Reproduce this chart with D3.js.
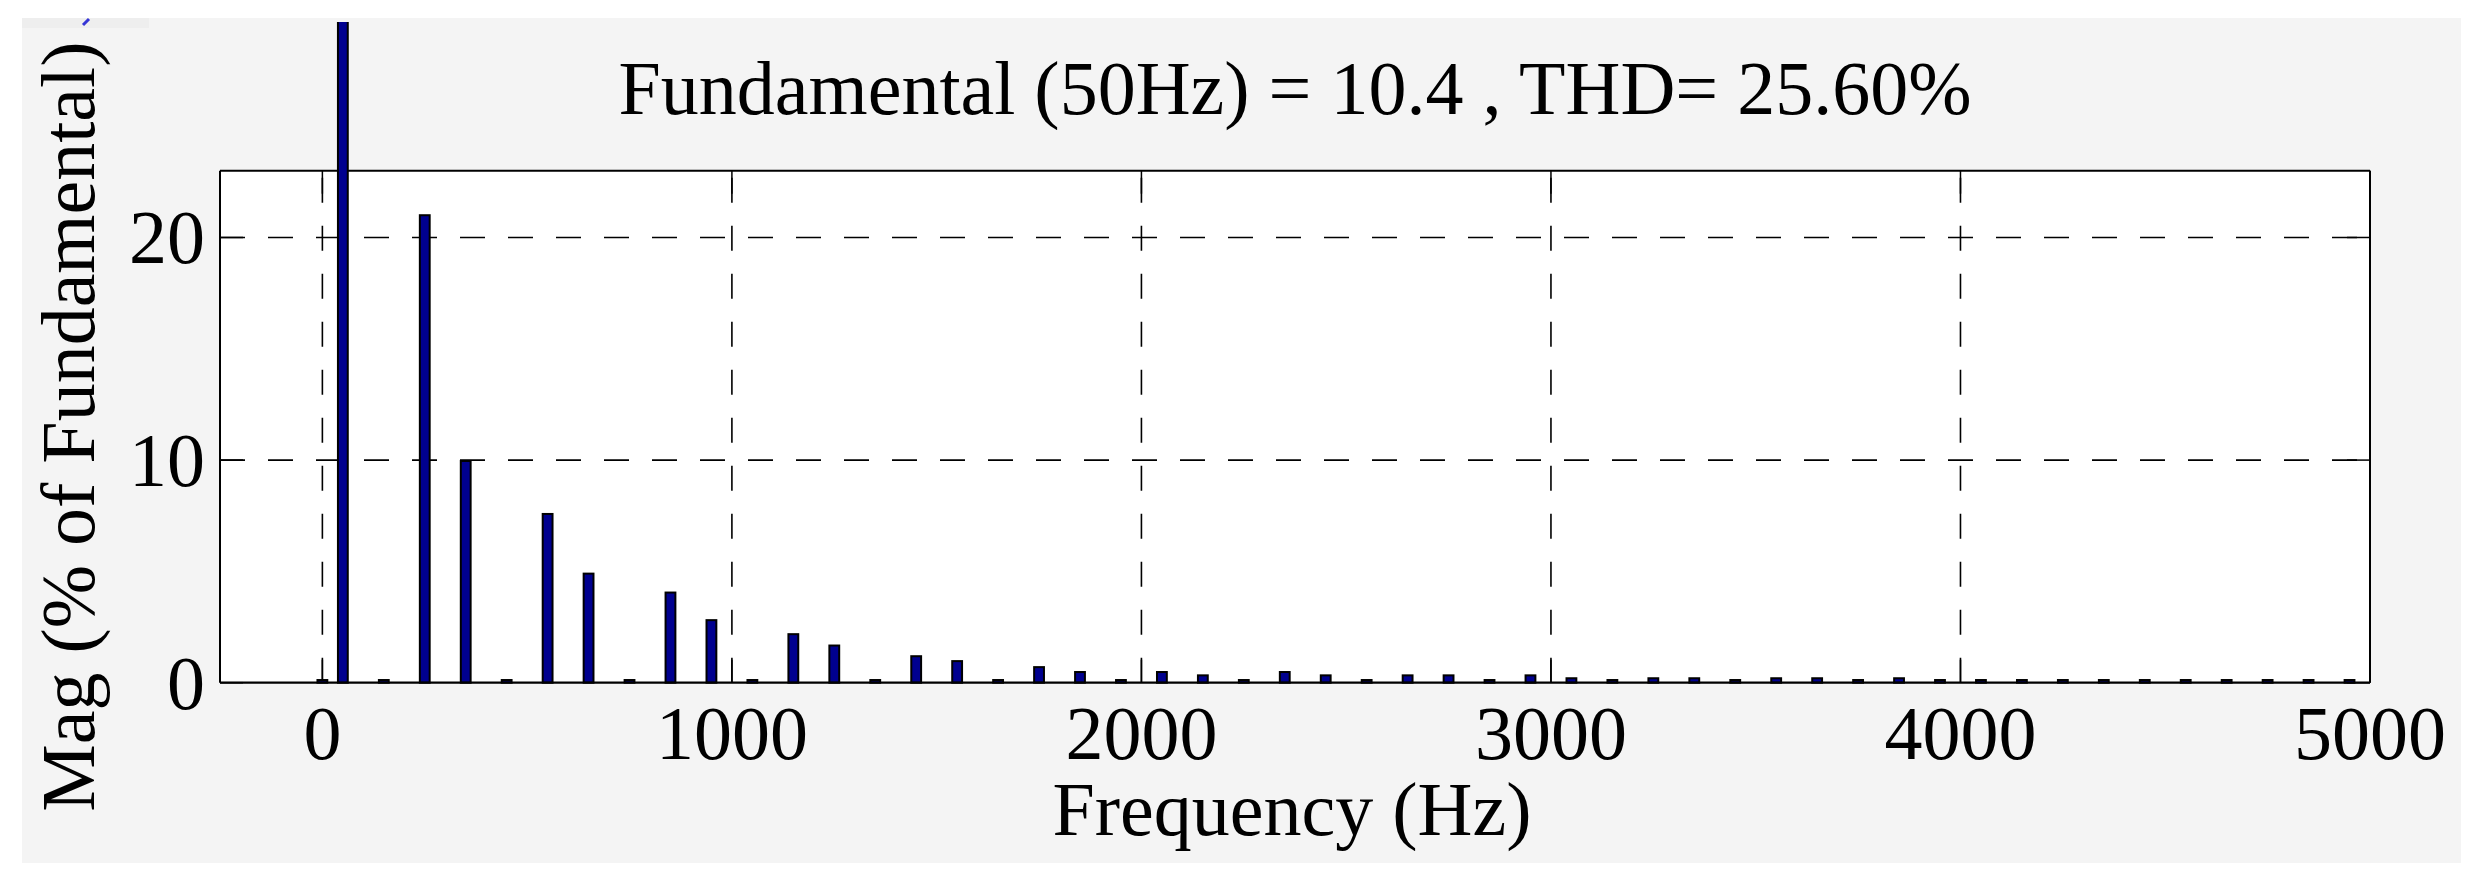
<!DOCTYPE html>
<html>
<head>
<meta charset="utf-8">
<script src="https://cdn.jsdelivr.net/npm/d3@7"></script>
<style>
  html, body { margin: 0; padding: 0; background: #ffffff; }
  svg { display: block; }
  text { font-family: "Liberation Serif", "Times New Roman", serif; fill: #000; }
</style>
</head>
<body>
<svg id="chart" width="2479" height="882"></svg>
<script>
// ---------------- data ----------------
const freqs = [0, 50, 150, 250, 350, 450, 550, 650, 750, 850, 950,
  1050, 1150, 1250, 1350, 1450, 1550, 1650, 1750, 1850, 1950,
  2050, 2150, 2250, 2350, 2450, 2550, 2650, 2750, 2850, 2950,
  3050, 3150, 3250, 3350, 3450, 3550, 3650, 3750, 3850, 3950,
  4050, 4150, 4250, 4350, 4450, 4550, 4650, 4750, 4850, 4950];
const mags = [0.12, 100, 0.12, 21.0, 9.96, 0.12, 7.58, 4.90, 0.12, 4.05, 2.81,
  0.12, 2.18, 1.67, 0.12, 1.19, 0.97, 0.12, 0.70, 0.48, 0.12,
  0.48, 0.33, 0.12, 0.48, 0.33, 0.12, 0.33, 0.33, 0.12, 0.33,
  0.20, 0.12, 0.20, 0.20, 0.12, 0.20, 0.20, 0.12, 0.20, 0.12,
  0.12, 0.12, 0.12, 0.12, 0.12, 0.12, 0.12, 0.12, 0.12, 0.12];
const xTicks = [0, 1000, 2000, 3000, 4000, 5000];
const yTicks = [0, 10, 20];
const xDomain = [-250, 5000];
const yDomain = [0, 23];
const titleText = "Fundamental (50Hz) = 10.4 , THD= 25.60%";
const xLabelText = "Frequency (Hz)";
const yLabelText = "Mag (% of Fundamental)";

// ---------------- layout ----------------
const W = 2479, H = 882;
const fig = { x0: 22, y0: 18, x1: 2461, y1: 863 };
const plot = { left: 220, right: 2370, top: 170.7, bottom: 682.7 };
const FONT = 76;
const barWidthHz = 24;
const tickLen = 23;
const clipTop = 22;

const svg = d3.select("#chart");

// figure background
svg.append("rect").attr("x", fig.x0).attr("y", fig.y0)
  .attr("width", fig.x1 - fig.x0).attr("height", fig.y1 - fig.y0)
  .attr("fill", "#f4f4f4");
// small toolbar remnant top-left
svg.append("rect").attr("x", fig.x0).attr("y", fig.y0)
  .attr("width", 127).attr("height", 10).attr("fill", "#eeeeee");
svg.append("line").attr("x1", 83).attr("y1", 25).attr("x2", 89).attr("y2", 19)
  .attr("stroke", "#3535d5").attr("stroke-width", 3);

const x = d3.scaleLinear().domain(xDomain).range([plot.left, plot.right]);
const y = d3.scaleLinear().domain(yDomain).range([plot.bottom, plot.top]);

// plot area
svg.append("rect").attr("x", plot.left).attr("y", plot.top)
  .attr("width", plot.right - plot.left).attr("height", plot.bottom - plot.top)
  .attr("fill", "#ffffff");

// grid
const grid = svg.append("g").attr("stroke", "#000").attr("stroke-width", 1.6)
  .attr("stroke-dasharray", "25,23").attr("fill", "none");
grid.selectAll("line.v").data(xTicks.filter(t => t < xDomain[1])).join("line")
  .attr("class", "v")
  .attr("x1", d => x(d)).attr("x2", d => x(d))
  .attr("y1", y(yDomain[0])).attr("y2", y(yDomain[1]));
grid.selectAll("line.h").data(yTicks.filter(t => t > yDomain[0])).join("line")
  .attr("class", "h")
  .attr("y1", d => y(d)).attr("y2", d => y(d))
  .attr("x1", x(xDomain[0])).attr("x2", x(xDomain[1]));

// top/left/right axis lines (behind bars)
const box = svg.append("g").attr("stroke", "#000").attr("stroke-width", 2).attr("fill", "none");
box.append("line").attr("x1", plot.left).attr("x2", plot.right).attr("y1", plot.top).attr("y2", plot.top);
box.append("line").attr("x1", plot.left).attr("x2", plot.left).attr("y1", plot.top).attr("y2", plot.bottom);
box.append("line").attr("x1", plot.right).attr("x2", plot.right).attr("y1", plot.top).attr("y2", plot.bottom);

// ticks (inward, all four sides)
const ticks = svg.append("g").attr("stroke", "#000").attr("stroke-width", 1.5);
xTicks.forEach(t => {
  ticks.append("line").attr("x1", x(t)).attr("x2", x(t)).attr("y1", plot.bottom).attr("y2", plot.bottom - tickLen);
  ticks.append("line").attr("x1", x(t)).attr("x2", x(t)).attr("y1", plot.top).attr("y2", plot.top + tickLen);
});
yTicks.forEach(t => {
  ticks.append("line").attr("y1", y(t)).attr("y2", y(t)).attr("x1", plot.left).attr("x2", plot.left + tickLen);
  ticks.append("line").attr("y1", y(t)).attr("y2", y(t)).attr("x1", plot.right).attr("x2", plot.right - tickLen);
});

// bars (clipped to the figure image top)
const defs = svg.append("defs");
defs.append("clipPath").attr("id", "figclip").append("rect")
  .attr("x", 0).attr("y", clipTop).attr("width", W).attr("height", H - clipTop);
const bw = x(barWidthHz) - x(0);
svg.append("g").attr("clip-path", "url(#figclip)")
  .selectAll("rect").data(freqs.map((f, i) => ({ f, m: mags[i] }))).join("rect")
  .attr("x", d => x(d.f) - bw / 2)
  .attr("width", bw)
  .attr("y", d => y(d.m))
  .attr("height", d => y(0) - y(d.m))
  .attr("fill", "#00008f")
  .attr("stroke", "#000")
  .attr("stroke-width", 2);

// bottom axis line on top
svg.append("line").attr("x1", plot.left).attr("x2", plot.right)
  .attr("y1", plot.bottom).attr("y2", plot.bottom)
  .attr("stroke", "#000").attr("stroke-width", 2.2);

// tick labels
svg.append("g").selectAll("text").data(xTicks).join("text")
  .attr("x", d => x(d)).attr("y", plot.bottom + 76)
  .attr("text-anchor", "middle").attr("font-size", FONT)
  .text(d => d);
svg.append("g").selectAll("text").data(yTicks).join("text")
  .attr("x", plot.left - 15).attr("y", d => y(d) + 26)
  .attr("text-anchor", "end").attr("font-size", FONT)
  .text(d => d);

// title & labels
const cx = (plot.left + plot.right) / 2;
svg.append("text").attr("x", cx).attr("y", 114.3)
  .attr("text-anchor", "middle").attr("font-size", FONT).text(titleText);
svg.append("text").attr("x", cx - 3).attr("y", 835)
  .attr("text-anchor", "middle").attr("font-size", FONT).text(xLabelText);
svg.append("text")
  .attr("transform", `translate(94,${(plot.top + plot.bottom) / 2}) rotate(-90)`)
  .attr("text-anchor", "middle").attr("font-size", FONT).text(yLabelText);
</script>
</body>
</html>
